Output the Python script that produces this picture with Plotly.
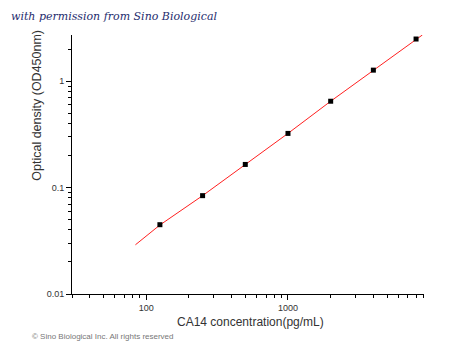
import math
import plotly.graph_objects as go

# Standard points
conc = [125, 250, 500, 1000, 2000, 4000, 8000]
od = [0.0448, 0.084, 0.165, 0.323, 0.648, 1.27, 2.49]

# Fitted curve
fit_x = [84, 125, 250, 500, 1000, 2000, 4000, 8870]
fit_y = [0.029, 0.0445, 0.084, 0.165, 0.323, 0.648, 1.27, 2.72]

x_ticks = [100, 1000]
x_tick_labels = ["100", "1000"]
y_ticks = [0.01, 0.1, 1]
y_tick_labels = ["0.01", "0.1", "1"]

x_minor = [m * 10 ** d for d in range(1, 4) for m in range(2, 10) if 30 <= m * 10 ** d <= 9100 and m * 10 ** d not in x_ticks]
y_minor = [m * 10.0 ** d for d in range(-2, 1) for m in range(2, 10) if m * 10.0 ** d <= 2.7]

fig = go.Figure()
fig.add_trace(go.Scatter(x=fit_x, y=fit_y, mode="lines",
                         line=dict(color="#ff2020", width=1), hoverinfo="skip"))
fig.add_trace(go.Scatter(x=conc, y=od, mode="markers",
                         marker=dict(symbol="square", size=5, color="black")))

axis_font = dict(family="Liberation Sans, Arial", size=9, color="#333333")
fig.update_layout(
    width=450, height=354,
    margin=dict(l=72, r=26, t=35, b=60),
    paper_bgcolor="white", plot_bgcolor="white",
    showlegend=False,
    xaxis=dict(type="log", range=[math.log10(30), math.log10(9100)],
               tickmode="array", tickvals=x_ticks, ticktext=x_tick_labels,
               ticks="outside", ticklen=5, tickcolor="black", tickwidth=1,
               showline=True, linecolor="black", linewidth=1,
               showgrid=False, zeroline=False, tickfont=axis_font,
               minor=dict(tickmode="array", tickvals=x_minor, ticks="outside",
                          ticklen=3, tickcolor="black", showgrid=False)),
    yaxis=dict(type="log", range=[-2, 0.434],
               tickmode="array", tickvals=y_ticks, ticktext=y_tick_labels,
               ticks="outside", ticklen=5, tickcolor="black", tickwidth=1,
               showline=True, linecolor="black", linewidth=1,
               showgrid=False, zeroline=False, tickfont=axis_font,
               minor=dict(tickmode="array", tickvals=y_minor, ticks="outside",
                          ticklen=3, tickcolor="black", showgrid=False)),
    annotations=[
        dict(text="CA14 concentration(pg/mL)", xref="paper", yref="paper",
             x=0.506, y=-0.075, xanchor="center", yanchor="top", showarrow=False,
             font=dict(family="Liberation Sans, Arial", size=12, color="#333333")),
        dict(text="Optical density (OD450nm)", xref="paper", yref="paper",
             x=-0.1, y=0.73, xanchor="center", yanchor="middle", textangle=-90,
             showarrow=False,
             font=dict(family="Liberation Sans, Arial", size=12.5, color="#333333")),
        dict(text="<i>with permission from Sino Biological</i>", xref="paper", yref="paper",
             x=-0.178, y=1.07, xanchor="left", yanchor="middle", showarrow=False,
             font=dict(family="DejaVu Serif", size=11, color="#1f2d6e")),
        dict(text="© Sino Biological Inc. All rights reserved", xref="paper", yref="paper",
             x=-0.12, y=-0.166, xanchor="left", yanchor="middle", showarrow=False,
             font=dict(family="Liberation Sans, Arial", size=8, color="#777777")),
    ],
)
fig.write_html("out.html")
